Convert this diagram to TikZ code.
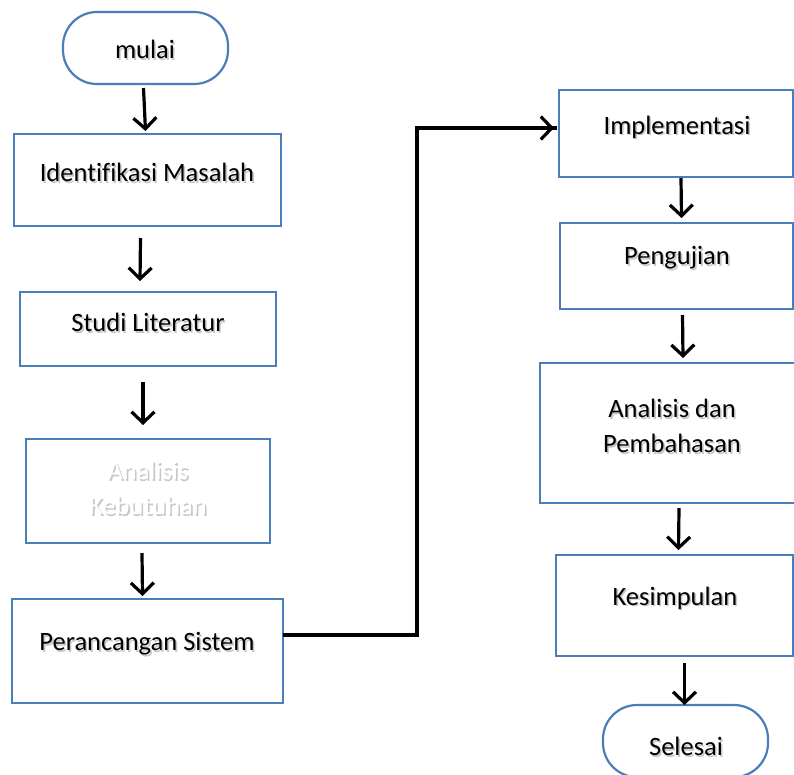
\documentclass[tikz,border=0pt]{standalone}
\usepackage{fontspec}
\setmainfont{Carlito}[Ligatures=NoCommon]
\usetikzlibrary{arrows.meta,calc}
\definecolor{bordc}{HTML}{4A7EBB}
\tikzset{
  box/.style={draw=bordc, line width=2.2pt, fill=white, inner sep=0pt, outer sep=0pt, rectangle},
  term/.style={box, rounded corners=34pt},
  arr/.style={line width=3.2pt, -{Straight Barb[length=11pt,width=23pt,line width=3.2pt]}},
  conn/.style={line width=3.6pt},
  txt/.style={font=\fontsize{26.5}{35}\selectfont, align=center, inner sep=0pt},
}
\newcommand{\shd}[2][black]{\rlap{\kern1.6pt\raisebox{-1.8pt}{\textcolor{black!22}{#2}}}\textcolor{#1}{#2}}
\begin{document}
\begin{tikzpicture}[x=1pt,y=-1pt]
\useasboundingbox (0,0) rectangle (794,774);
\clip (0,0) rectangle (794,774);
% boxes
\node[term, minimum width=165pt, minimum height=72pt] (mulai) at (145.5,48) {};
\node[box, minimum width=267pt, minimum height=92pt] (idm) at (147.5,180) {};
\node[box, minimum width=256pt, minimum height=74pt] (studi) at (148,329) {};
\node[box, minimum width=244pt, minimum height=104pt] (anal) at (148,491) {};
\node[box, minimum width=271pt, minimum height=104pt] (peran) at (147.5,651) {};
\node[box, minimum width=234pt, minimum height=87pt] (impl) at (676,133.5) {};
\node[box, minimum width=233pt, minimum height=86pt] (peng) at (676.5,266) {};
\node[box, minimum width=264pt, minimum height=140pt] (anpem) at (672,433) {};
\node[box, minimum width=237pt, minimum height=101pt] (kes) at (674.5,605.5) {};
\node[term, minimum width=165pt, minimum height=72pt] (sel) at (685.5,741) {};
% texts
\node[txt] (tmulai) at (145,50) {\shd{mulai}};
\node[txt] (tidm) at (147,173) {\shd{Identifikasi Masalah}};
\node[txt] (tstudi) at (148,323) {\shd{Studi Literatur}};
\node[txt] (tanal) at (148,489) {\shd[white]{Analisis}\\\shd[white]{Kebutuhan}};
\node[txt] (tperan) at (147,645) {\shd{Perancangan Sistem}};
\node[txt] (timpl) at (677,128) {\shd{Implementasi}};
\node[txt] (tpeng) at (677,259) {\shd{Pengujian}};
\node[txt] (tanpem) at (672,427) {\shd{Analisis dan}\\\shd{Pembahasan}};
\node[txt] (tkes) at (675,599) {\shd{Kesimpulan}};
\node[txt] (tsel) at (686,747) {\shd{Selesai}};
% arrows
\draw[arr] ([xshift=-2pt,yshift=-4pt]mulai.south) -- ([xshift=-2pt,yshift=3pt]idm.north);
\draw[arr] ([xshift=-7pt,yshift=-12pt]idm.south) -- ([xshift=-8pt,yshift=11pt]studi.north);
\draw[arr] ([xshift=-5pt,yshift=-16pt]studi.south) -- ([xshift=-5pt,yshift=14pt]anal.north);
\draw[arr] ([xshift=-6pt,yshift=-10pt]anal.south) -- ([xshift=-5pt,yshift=3pt]peran.north);
\coordinate (bend1) at (417,635);
\coordinate (bend2) at (417,128);
\draw[conn] (peran.east |- bend1) -- (bend1) -- (bend2) -- ([xshift=-2pt]impl.west |- bend2);
\draw[conn, -{Straight Barb[length=11pt,width=23pt,line width=3.2pt]}] (bend2) -- ([xshift=-5pt]impl.west |- bend2);
\draw[arr] ([xshift=5pt,yshift=-1pt]impl.south) -- ([xshift=5pt,yshift=5pt]peng.north);
\draw[arr] ([xshift=6pt,yshift=-6pt]peng.south) -- ([xshift=11pt,yshift=5pt]anpem.north);
\draw[arr] ([xshift=7pt,yshift=-5pt]anpem.south) -- ([xshift=4pt,yshift=5pt]kes.north);
\draw[arr] ([xshift=10pt,yshift=-7pt]kes.south) -- ([xshift=-1pt]sel.north);
\end{tikzpicture}
\end{document}
